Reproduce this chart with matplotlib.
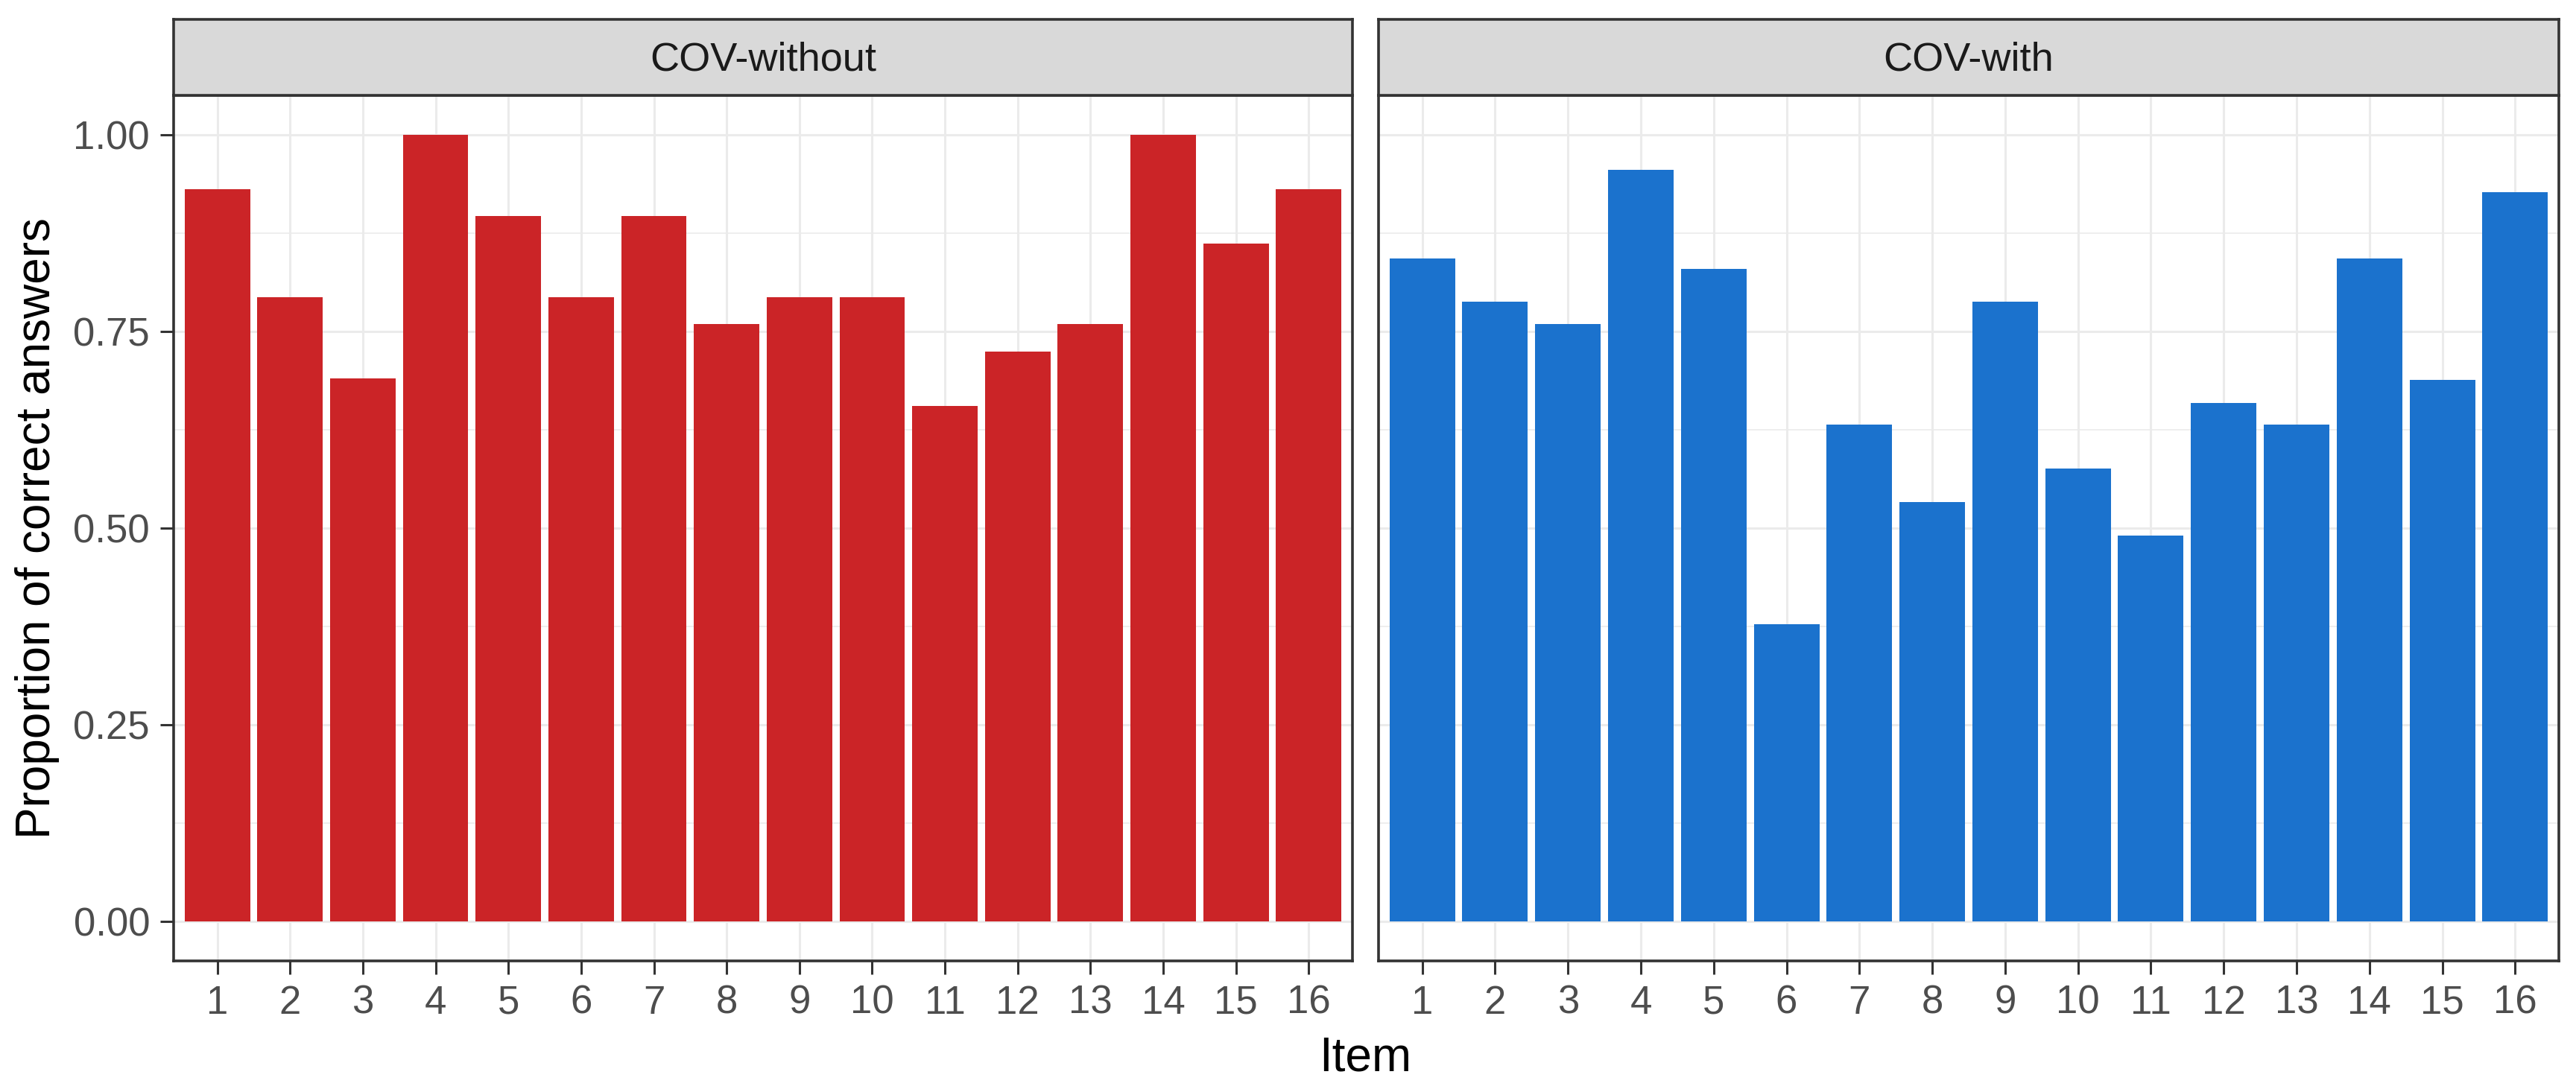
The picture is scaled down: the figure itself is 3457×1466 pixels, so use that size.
import matplotlib
matplotlib.use("Agg")
import matplotlib.pyplot as plt
import numpy as np

plt.rcParams['font.family'] = ['Liberation Sans', 'DejaVu Sans']

items = [str(i) for i in range(1, 17)]
panel_titles = ["COV-without", "COV-with"]
cov_without = [0.931, 0.793, 0.690, 1.000, 0.897, 0.793, 0.897, 0.759,
               0.793, 0.793, 0.655, 0.724, 0.759, 1.000, 0.862, 0.931]
cov_with = [0.843, 0.788, 0.759, 0.955, 0.829, 0.378, 0.632, 0.533,
            0.788, 0.576, 0.491, 0.659, 0.632, 0.843, 0.688, 0.927]
colors = ["#CB2427", "#1B72CD"]
y_ticks = [0.0, 0.25, 0.5, 0.75, 1.0]
y_ticklabels = ["0.00", "0.25", "0.50", "0.75", "1.00"]
y_minor = [0.125, 0.375, 0.625, 0.875]

W, H = 3457, 1466
fig = plt.figure(figsize=(W / 200, H / 200), dpi=200)

def fx(px):
    return px / W

def fy(py):
    return 1 - py / H

panels = [(233, 1815), (1850, 3434)]
ptop, pbot = 128, 1290
stop = 26
border = "#333333"
grid = "#EBEBEB"

x = np.arange(1, 17)
for k, ((x0, x1), vals, title) in enumerate(zip(panels, [cov_without, cov_with], panel_titles)):
    ax = fig.add_axes([fx(x0), fy(pbot), fx(x1) - fx(x0), fy(ptop) - fy(pbot)])
    ax.set_xlim(0.4, 16.6)
    ax.set_ylim(-0.05, 1.05)
    for yv in y_minor:
        ax.axhline(yv, color=grid, lw=0.6, zorder=0)
    for yv in y_ticks:
        ax.axhline(yv, color=grid, lw=1.1, zorder=0)
    for xv in x:
        ax.axvline(xv, color=grid, lw=1.1, zorder=0)
    ax.bar(x, vals, width=0.9, color=colors[k], zorder=2)
    ax.set_xticks(x)
    ax.set_xticklabels(items)
    ax.tick_params(axis='x', length=6.5, width=1.1, color=border, pad=5,
                   labelsize=19, labelcolor="#4D4D4D")
    if k == 0:
        ax.set_yticks(y_ticks)
        ax.set_yticklabels(y_ticklabels)
        ax.tick_params(axis='y', length=6.5, width=1.1, color=border, pad=5,
                       labelsize=19, labelcolor="#4D4D4D")
    else:
        ax.set_yticks([])
    for s in ax.spines.values():
        s.set_color(border)
        s.set_linewidth(1.3)
    # strip
    sax = fig.add_axes([fx(x0), fy(ptop), fx(x1) - fx(x0), fy(stop) - fy(ptop)])
    sax.set_facecolor("#D9D9D9")
    sax.set_xticks([])
    sax.set_yticks([])
    for s in sax.spines.values():
        s.set_color(border)
        s.set_linewidth(1.3)
    sax.text(0.5, 0.47, title, transform=sax.transAxes, ha='center', va='center',
             fontsize=19.5, color="#1A1A1A")

fig.text(fx(50), fy((ptop + pbot) / 2), "Proportion of correct answers",
         rotation=90, ha='center', va='center', fontsize=23, color='black')
fig.text(fx(1832), fy(1438), "Item", ha='center', va='baseline', fontsize=23, color='black')

fig.savefig("out.png", dpi=200, facecolor='white')
